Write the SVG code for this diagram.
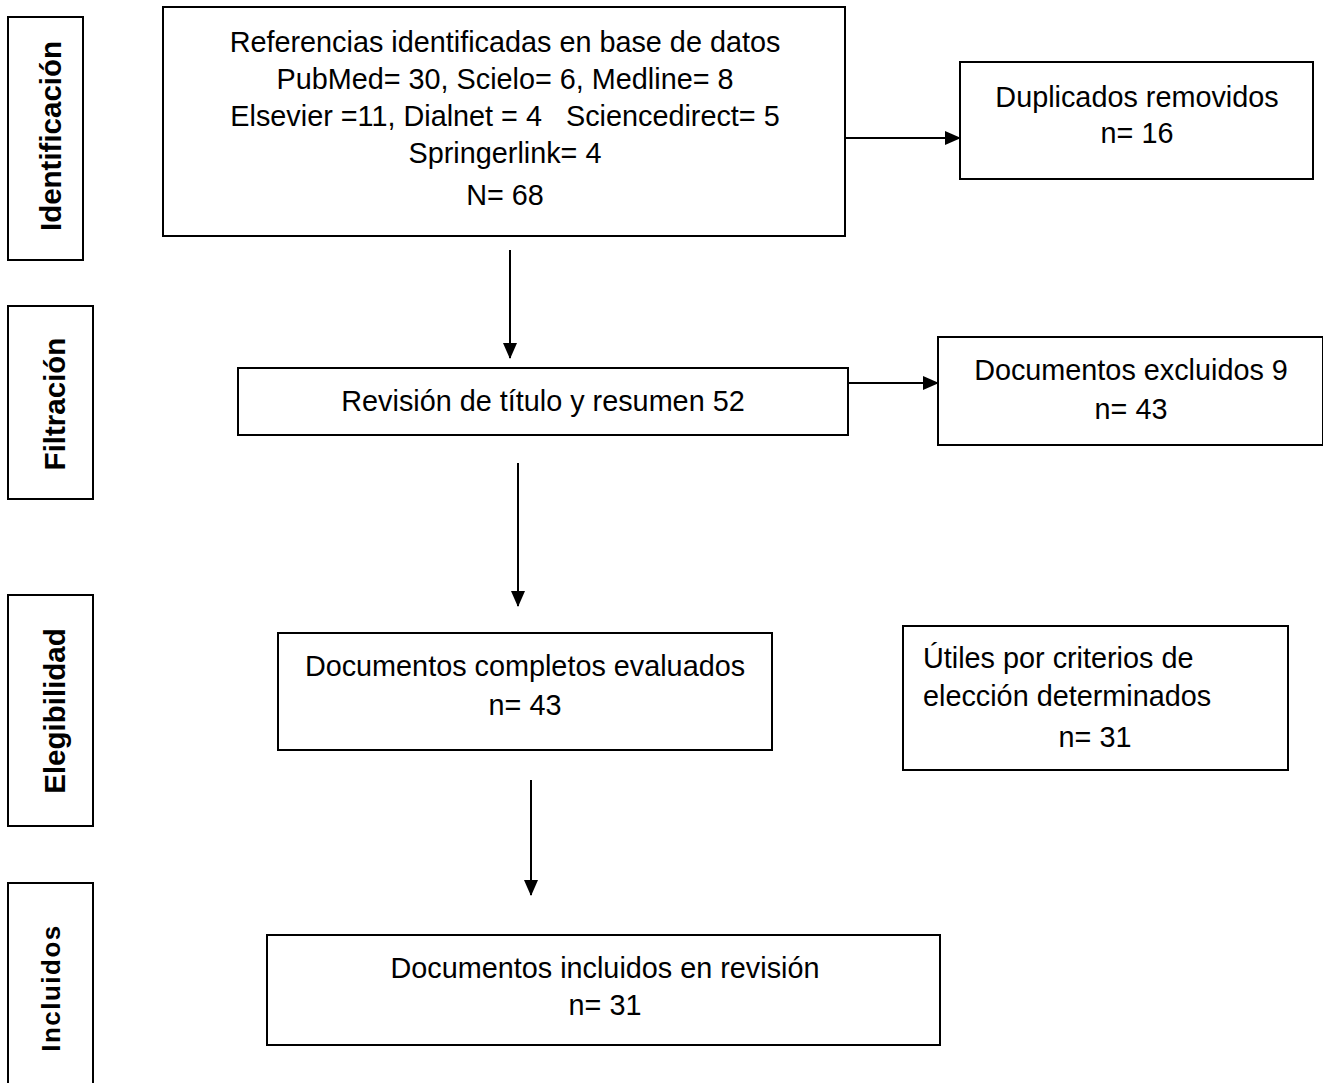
<svg xmlns="http://www.w3.org/2000/svg" width="1323" height="1083" viewBox="0 0 1323 1083">
<style>
.box{fill:#fff;stroke:#000;stroke-width:2}
.t{font-family:"Liberation Sans",Arial,sans-serif;font-size:28.8px;fill:#000;text-anchor:middle}
.tl{font-family:"Liberation Sans",Arial,sans-serif;font-size:28.8px;fill:#000}
.side{font-family:"Liberation Sans",Arial,sans-serif;font-weight:bold;font-size:29.5px;fill:#000;text-anchor:middle}
.c{stroke:#000;stroke-width:2;fill:none}
</style>
<defs>
<marker id="ah" markerWidth="16" markerHeight="14" refX="15" refY="7" orient="auto" markerUnits="userSpaceOnUse">
<path d="M0,0 L16,7 L0,14 Z" fill="#000"/>
</marker>
</defs>
<rect width="1323" height="1083" fill="#fff"/>
<g id="stage-identificacion">
<rect class="box" x="8" y="17" width="75" height="243"/>
<text class="side" transform="translate(61,136) rotate(-90)">Identificación</text>
</g>
<g id="stage-filtracion">
<rect class="box" x="8" y="306" width="85" height="193"/>
<text class="side" transform="translate(65,404) rotate(-90)">Filtración</text>
</g>
<g id="stage-elegibilidad">
<rect class="box" x="8" y="595" width="85" height="231"/>
<text class="side" transform="translate(65,711) rotate(-90)">Elegibilidad</text>
</g>
<g id="stage-incluidos">
<rect class="box" x="8" y="883" width="85" height="210"/>
<text class="side" style="font-size:26px;letter-spacing:1.5px" transform="translate(60,988) rotate(-90)">Incluidos</text>
</g>
<g id="n-referencias">
<rect class="box" x="163" y="7" width="682" height="229"/>
<text class="t" x="505" y="52">Referencias identificadas en base de datos</text>
<text class="t" x="505" y="89">PubMed= 30, Scielo= 6, Medline= 8</text>
<text class="t" x="505" y="126" xml:space="preserve">Elsevier =11, Dialnet = 4   Sciencedirect= 5</text>
<text class="t" x="505" y="163">Springerlink= 4</text>
<text class="t" x="505" y="205">N= 68</text>
</g>
<g id="n-duplicados">
<rect class="box" x="960" y="62" width="353" height="117"/>
<text class="t" x="1137" y="107">Duplicados removidos</text>
<text class="t" x="1137" y="143">n= 16</text>
</g>
<g id="n-revision">
<rect class="box" x="238" y="368" width="610" height="67"/>
<text class="t" x="543" y="411">Revisión de título y resumen 52</text>
</g>
<g id="n-excluidos">
<rect class="box" x="938" y="337" width="385" height="108"/>
<text class="t" x="1131" y="380">Documentos excluidos 9</text>
<text class="t" x="1131" y="419">n= 43</text>
</g>
<g id="n-completos">
<rect class="box" x="278" y="633" width="494" height="117"/>
<text class="t" x="525" y="676">Documentos completos evaluados</text>
<text class="t" x="525" y="715">n= 43</text>
</g>
<g id="n-utiles">
<rect class="box" x="903" y="626" width="385" height="144"/>
<text class="tl" x="923" y="668">Útiles por criterios de</text>
<text class="tl" x="923" y="706">elección determinados</text>
<text class="t" x="1095" y="747">n= 31</text>
</g>
<g id="n-incluidos">
<rect class="box" x="267" y="935" width="673" height="110"/>
<text class="t" x="605" y="978">Documentos incluidos en revisión</text>
<text class="t" x="605" y="1015">n= 31</text>
</g>
<g id="connectors">
<line class="c" x1="845" y1="138" x2="960" y2="138" marker-end="url(#ah)"/>
<line class="c" x1="510" y1="250" x2="510" y2="358" marker-end="url(#ah)"/>
<line class="c" x1="848" y1="383" x2="938" y2="383" marker-end="url(#ah)"/>
<line class="c" x1="518" y1="463" x2="518" y2="606" marker-end="url(#ah)"/>
<line class="c" x1="531" y1="780" x2="531" y2="895" marker-end="url(#ah)"/>
</g>
</svg>
